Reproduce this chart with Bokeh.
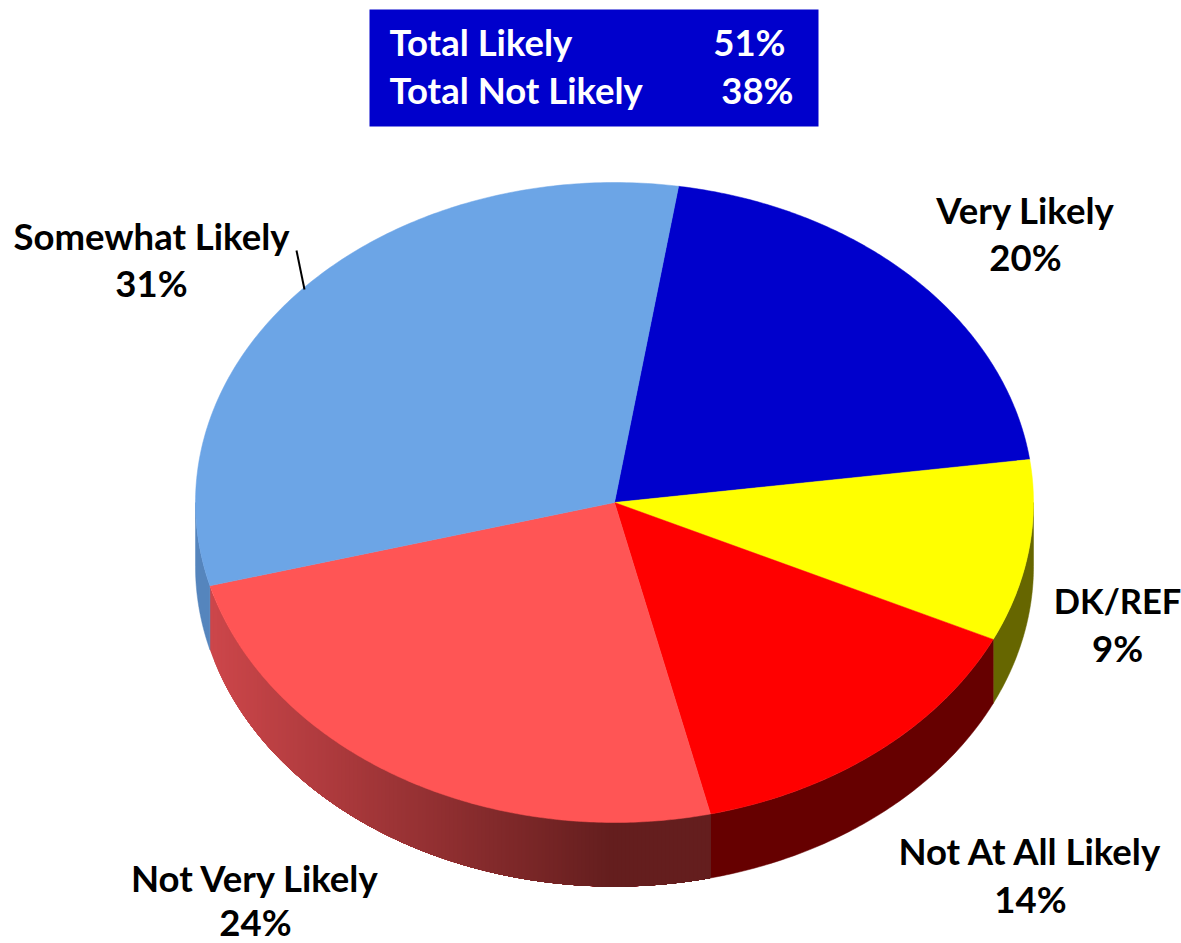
import numpy as np
from bokeh.plotting import figure
from bokeh.models import Range1d
from bokeh.core.properties import value
from bokeh.embed import file_html
from bokeh.resources import INLINE

# ---- data ----
categories = ["Very Likely", "DK/REF", "Not At All Likely", "Not Very Likely", "Somewhat Likely"]
shares = [20, 9, 14, 24, 31]
share_labels = ["20%", "9%", "14%", "24%", "31%"]
top_colors = ["#0000cc", "#ffff00", "#ff0000", "#ff5555", "#6ca5e6"]
side_colors = ["#000066", "#666600", "#660000", None, "#5585bd"]
summary_labels = ["Total Likely", "Total Not Likely"]
summary_values = ["51%", "38%"]

# ---- geometry (page pixels) ----
CX, CY, RX, RY, DEPTH = 614.0, 502.0, 419.0, 320.0, 64.0
START_DEG = 81.2
FONT = value("Lato")
FS = "36.5px"

p = figure(width=1181, height=943, output_backend="svg", toolbar_location=None,
           x_range=Range1d(0, 1181), y_range=Range1d(943, 0), min_border=0,
           outline_line_color=None, border_fill_color="white", background_fill_color="white")
p.axis.visible = False
p.grid.visible = False


def arc(a1, a2, n=90, dy=0.0):
    t = np.radians(np.linspace(a1, a2, n))
    return CX + RX * np.cos(t), CY + dy - RY * np.sin(t)


# slice bounds, clockwise from START_DEG
sweeps = np.array(shares, dtype=float) / sum(shares) * 360.0
ends = START_DEG - np.cumsum(sweeps)
starts = ends + sweeps


def hex_mix(c1, c2, f):
    return "#%02x%02x%02x" % tuple(int(round(a + (b - a) * f)) for a, b in zip(c1, c2))


# side wall, visible only on the lower half (angles -180..0)
for i in range(len(shares)):
    hi, lo = starts[i], ends[i]
    lo_v, hi_v = max(lo, -180.0), min(hi, 0.0)
    if hi_v <= lo_v:
        continue
    if side_colors[i] is None:
        # gradient by x: nested patches, painted from the left, each one
        # covering everything to its right (right-most colour painted last)
        left_rgb, right_rgb = (204, 70, 74), (100, 30, 30)
        x_left = CX + RX * np.cos(np.radians(lo_v))
        x_right = CX + RX * np.cos(np.radians(hi_v))
        for x_edge in np.arange(x_left, x_right, 4.0):
            a = -np.degrees(np.arccos((x_edge - CX) / RX))
            xt, yt = arc(a, hi_v, 60)
            xb, yb = arc(hi_v, a, 60, DEPTH)
            f = np.clip((x_edge - x_left) / 400.0, 0, 1)
            col = hex_mix(left_rgb, right_rgb, f)
            p.patch(np.r_[xt, xb], np.r_[yt, yb], fill_color=col, line_color=None)
    else:
        xt, yt = arc(hi_v, lo_v)
        xb, yb = arc(lo_v, hi_v, dy=DEPTH)
        p.patch(np.r_[xt, xb], np.r_[yt, yb], fill_color=side_colors[i],
                line_color=side_colors[i], line_width=0.5)

# top surface
for i in range(len(shares)):
    x, y = arc(starts[i], ends[i], 160)
    p.patch(np.r_[CX, x], np.r_[CY, y], fill_color=top_colors[i],
            line_color=top_colors[i], line_width=0.5)

# leader for Somewhat Likely
p.line([296, 304], [250, 289], line_color="black", line_width=2)

# data labels: centre x, y of first and second line
label_pos = {
    "Very Likely": (1025, 209, 256),
    "DK/REF": (1117, 600, 647),
    "Not At All Likely": (1030, 850, 898),
    "Not Very Likely": (255, 877, 921),
    "Somewhat Likely": (151, 235, 282),
}
for name, pct in zip(categories, share_labels):
    lx, y1, y2 = label_pos[name]
    fs1 = "34.5px" if name == "DK/REF" else FS
    p.text([lx], [y1], text=[name], text_font=FONT, text_font_style="bold", text_font_size=fs1,
           text_color="black", text_align="center", text_baseline="middle")
    p.text([lx], [y2], text=[pct], text_font=FONT, text_font_style="bold", text_font_size=FS,
           text_color="black", text_align="center", text_baseline="middle")

# summary box
p.quad(left=[369], right=[818], top=[9], bottom=[126], fill_color="#0000cc", line_color=None)
for lab, val, ym, xr in zip(summary_labels, summary_values, [41, 89], [785, 793]):
    p.text([389], [ym], text=[lab], text_font=FONT, text_font_style="bold", text_font_size=FS,
           text_color="white", text_align="left", text_baseline="middle")
    p.text([xr], [ym], text=[val], text_font=FONT, text_font_style="bold", text_font_size=FS,
           text_color="white", text_align="right", text_baseline="middle")

open("out.html", "w").write(file_html(p, INLINE))
